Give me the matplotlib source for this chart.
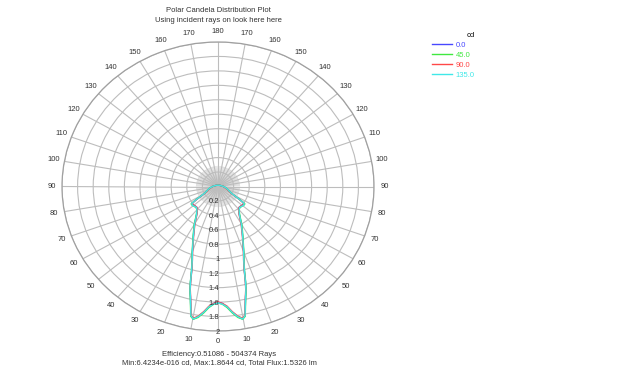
import numpy as np
import matplotlib
matplotlib.use('Agg')
import matplotlib.pyplot as plt
from matplotlib.transforms import offset_copy

# ---------------- data ----------------
theta_deg = [0, 2, 4, 6, 8, 9.8, 11, 12.2, 13, 14, 15, 16.2, 18, 20, 22, 24.3, 27, 30,
             33, 36, 40, 44, 48, 52, 55, 57, 59, 62, 66, 72, 80, 90, 100, 120, 150, 180]
r_0 = [1.60, 1.62, 1.67, 1.75, 1.82, 1.86, 1.82, 1.66, 1.57, 1.48, 1.36, 1.21, 1.07, 0.96,
       0.86, 0.77, 0.68, 0.60, 0.52, 0.46, 0.41, 0.395, 0.40, 0.41, 0.41, 0.33, 0.24, 0.19,
       0.16, 0.13, 0.10, 0.07, 0.05, 0.03, 0.02, 0.02]
r_45 = [1.61, 1.63, 1.68, 1.76, 1.83, 1.864, 1.83, 1.67, 1.58, 1.49, 1.37, 1.22, 1.08, 0.97,
        0.87, 0.78, 0.69, 0.61, 0.53, 0.47, 0.42, 0.405, 0.41, 0.42, 0.42, 0.34, 0.25, 0.19,
        0.16, 0.13, 0.10, 0.07, 0.05, 0.03, 0.02, 0.02]
r_90 = [1.60, 1.62, 1.66, 1.74, 1.81, 1.85, 1.81, 1.65, 1.56, 1.47, 1.35, 1.20, 1.06, 0.95,
        0.85, 0.76, 0.67, 0.59, 0.51, 0.455, 0.41, 0.395, 0.40, 0.41, 0.40, 0.32, 0.24, 0.18,
        0.15, 0.12, 0.09, 0.07, 0.05, 0.03, 0.02, 0.02]
r_135 = [1.61, 1.63, 1.67, 1.75, 1.82, 1.86, 1.82, 1.66, 1.57, 1.48, 1.36, 1.21, 1.07, 0.96,
         0.86, 0.77, 0.68, 0.60, 0.52, 0.465, 0.42, 0.40, 0.41, 0.42, 0.41, 0.33, 0.25, 0.19,
         0.16, 0.13, 0.10, 0.07, 0.05, 0.03, 0.02, 0.02]
series_labels = ["0.0", "45.0", "90.0", "135.0"]
series_colors = ["#4848ff", "#40e840", "#ff4848", "#40e8e8"]
r_ticks = [0.2, 0.4, 0.6, 0.8, 1.0, 1.2, 1.4, 1.6, 1.8, 2.0]
r_tick_labels = ["0.2", "0.4", "0.6", "0.8", "1", "1.2", "1.4", "1.6", "1.8", "2"]
angle_ticks = list(range(0, 360, 10))
angle_labels = [str(a if a <= 180 else 360 - a) for a in angle_ticks]
title_lines = ["Polar Candela Distribution Plot", "Using incident rays on look here here"]
foot_lines = ["Efficiency:0.51086 - 504374 Rays",
              "Min:6.4234e-016 cd, Max:1.8644 cd, Total Flux:1.5326 lm"]

# ---------------- figure ----------------
plt.rcParams['font.family'] = ['Liberation Sans', 'DejaVu Sans']
W, H = 618, 373
fig = plt.figure(figsize=(W / 100, H / 100), dpi=100)
fig.patch.set_facecolor('white')
ax = fig.add_axes([62 / W, 42 / H, 312 / W, 289 / H], projection='polar')
ax.set_aspect('auto')
ax.set_theta_zero_location('S')
ax.set_ylim(0, 2)
ax.set_yticks(r_ticks)
ax.set_yticklabels([])
ax.set_xticks(np.deg2rad(angle_ticks))
ax.set_xticklabels(angle_labels, fontsize=5.5, color='#333333')
ax.tick_params(axis='x', pad=-3)
ax.grid(True, color='#bdbdbd', lw=0.8)
ax.spines['polar'].set_color('#a0a0a0')
ax.spines['polar'].set_linewidth(0.9)

# dense spokes near centre
for a in np.arange(0, 360, 3):
    ax.plot([np.deg2rad(a)] * 2, [0, 0.28], color='#c2c2c2', lw=0.35, zorder=1)

# curves
th = np.array(theta_deg)
full_th = np.deg2rad(np.concatenate([th, 360 - th[::-1]]))
for r, lab, col in zip([r_0, r_45, r_90, r_135], series_labels, series_colors):
    rr = np.array(r)
    ax.plot(full_th, np.concatenate([rr, rr[::-1]]), color=col, lw=1.0, label=lab, zorder=3)

# radial labels
trans = offset_copy(ax.transData, fig=fig, x=1.5, y=-1, units='dots')
for rv, lab in zip(r_ticks, r_tick_labels):
    ax.text(0, rv, lab, transform=trans, ha='right', va='center', fontsize=5.5,
            color='#333333', zorder=4)

# titles
fig.text(218 / W, 1 - 11 / H, title_lines[0], ha='center', va='center', fontsize=5.5, color='#333333')
fig.text(218 / W, 1 - 20 / H, title_lines[1], ha='center', va='center', fontsize=5.5, color='#333333')
fig.text(219 / W, 1 - 354 / H, foot_lines[0], ha='center', va='center', fontsize=5.5, color='#333333')
fig.text(219 / W, 1 - 363 / H, foot_lines[1], ha='center', va='center', fontsize=5.5, color='#333333')

# legend
leg = fig.legend(loc='upper left', bbox_to_anchor=(428 / W, 1 - 28 / H), frameon=False,
                 title='cd', alignment='right', fontsize=5.5, title_fontsize=5.5,
                 handlelength=2.6, handletextpad=0.5, labelspacing=0.35, borderpad=0)
for t, c in zip(leg.get_texts(), series_colors):
    t.set_color(c)

fig.savefig('out.png', dpi=100, facecolor='white')
